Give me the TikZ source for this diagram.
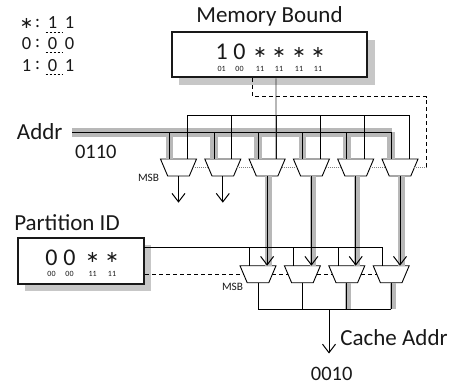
\documentclass[tikz,border=0pt]{standalone}
\usepackage{fontspec}
\setmainfont{Carlito}
\newfontfamily\starfont{DejaVu Sans}
\usetikzlibrary{arrows.meta, shapes.geometric}
\definecolor{textgray}{gray}{.1}
\definecolor{bandgray}{gray}{.72}
\definecolor{shadowgray}{gray}{.78}
\newcommand{\starbit}{{\fontsize{16}{16}\starfont ∗}}
\tikzset{
    headarrow/.style = {-{Straight Barb[length=8.5pt, width=13pt, line width=1pt]}},
    wire/.style = {line width=.8pt},
    dashwire/.style = {wire, dash pattern=on 4pt off 3pt},
    dotwire/.style = {line width=.6pt, gray, dash pattern=on 1pt off 1pt},
    band/.style = {line width=8pt, bandgray},
    mux/.style = {trapezium, shape border rotate=180, trapezium angle=67,
                  text width=21.6pt, text height=17pt, text depth=0pt,
                  inner sep=0pt, outer sep=0pt, draw, line width=.9pt, fill=white},
    regbox/.style = {draw=black!90, line width=2.6pt, fill=white, inner sep=0pt},
    shadowbox/.style = {fill=shadowgray, inner sep=0pt},
    title/.style = {font=\fontsize{23}{26}\selectfont, text=textgray, inner sep=0pt},
    digits/.style = {font=\fontsize{20.5}{24}\selectfont, text=textgray, inner sep=0pt},
    bigbit/.style = {font=\fontsize{24}{28}\selectfont, text=textgray, inner sep=0pt},
    legbit/.style = {font=\fontsize{18.5}{22}\selectfont, text=textgray, inner sep=0pt},
    tag/.style = {font=\fontsize{8}{9}\selectfont, text=textgray, inner sep=0pt},
    msb/.style = {font=\fontsize{11.3}{13}\selectfont, text=textgray, inner sep=0pt},
}

\begin{document}
\begin{tikzpicture}[x=1pt, y=-1pt]
    \useasboundingbox (0,0) rectangle (453,388);

    % registers
    \node[shadowbox, minimum width=196pt, minimum height=45pt] (memshadow) at (276.5,62.5) {};
    \node[regbox, minimum width=195pt, minimum height=45pt] (mem) at (269.5,54.5) {};
    \node[shadowbox, minimum width=126pt, minimum height=46pt] (partshadow) at (88,268) {};
    \node[regbox, minimum width=126pt, minimum height=46pt] (part) at (81,261) {};

    \node[title] (memtitle) at (269.5,16.5) {Memory Bound};
    \node[title] (parttitle) at (67,223) {Partition ID};
    \node[title] (addr) at (39.7,132) {Addr};
    \node[title] (cache) at (394,338) {Cache Addr};
    \node[digits] (addrval) at (95.8,152) {0110};
    \node[digits] (cacheval) at (331.7,374) {0010};
    \node[msb] (msbtop) at (148.5,177.5) {MSB};
    \node[msb] (msbbot) at (232.5,286.7) {MSB};

    \foreach \x/\Label/\Tag [count=\i] in {%
        221.7/1/01,
        239.5/0/00,
        260/\starbit/11,
        279/\starbit/11,
        299/\starbit/11,
        318/\starbit/11%
        } {
        \node[bigbit] (membit\i) at (\x,52) {\Label};
        \node[tag] (memtag\i) at (\x,69.3) {\Tag};
    }
    \foreach \x/\Label/\Tag [count=\i] in {%
        51.5/0/00,
        69.5/0/00,
        92.7/\starbit/11,
        112/\starbit/11%
        } {
        \node[bigbit] (partbit\i) at (\x,257.7) {\Label};
        \node[tag] (parttag\i) at (\x,274) {\Tag};
    }

    % legend
    \foreach \y/\Key/\Hi/\Lo [count=\i] in {%
        23/\starbit/1/1,
        43.5/0/0/0,
        65.5/1/0/1%
        } {
        \node[legbit] (legkey\i) at (26.5,\y) {\Key};
        \node[legbit] (legsep\i) at (37.5,\y) {:};
        \node[legbit] (leghi\i) at (52.5,\y) {\Hi};
        \node[legbit] (leglo\i) at (69.5,\y) {\Lo};
        \draw[wire, line width=.6pt, dash pattern=on 2.5pt off 1.5pt] ([shift={(-7,9)}]leghi\i.center) -- ([shift={(10.5,9)}]leghi\i.center);
    }

    % muxes
    \foreach \i in {1,...,6}
        \node[mux] (m\i) at ({178.5+44.3*(\i-1)},167.5) {};
    \foreach \i in {1,...,4}
        \node[mux] (b\i) at ({258+44.4*(\i-1)},274.2) {};

    \coordinate (busl) at (72,132.4);
    \coordinate (busr) at (391.5,132.4);
    \coordinate (memsel) at (276,115);
    \coordinate (partsel) at (144,247.7);
    \coordinate (dashtop) at (252.7,96.7);
    \coordinate (dashright) at (426.7,96.7);
    \coordinate (cachejoin) at (329,309.3);
    \coordinate (cacheend) at (329,353.5);

    % grey bands
    \foreach \i in {1,...,6}
        \draw[band, line width=7.5pt] ([xshift=-8.9pt]m\i.north) -- ([xshift=-8.9pt]m\i.north |- busr);
    \draw[band, line width=9pt] (busl) -- (busr);
    \foreach \Top/\Bot in {%
        3/1,
        4/2,
        5/3,
        6/4%
        }
        \draw[band, line width=6.5pt] ([xshift=1.5pt]m\Top.south) -- ([xshift=1.5pt]m\Top.south |- b\Bot.north);
    \foreach \i in {3,4}
        \draw[band, line width=6pt] ([xshift=1.5pt]b\i.south) -- ([xshift=1.5pt]b\i.south |- cachejoin);

    % address bus and selects
    \draw[wire] (busl) -- (busr);
    \foreach \i in {1,...,6} {
        \draw[wire] ([xshift=-8.9pt]m\i.north) -- ([xshift=-8.9pt]m\i.north |- busr);
        \draw[wire] ([xshift=8.9pt]m\i.north) |- (memsel);
    }
    \draw[wire, gray!40!black] (memsel |- mem.south) -- ([xshift=8.9pt]m3.north);
    \draw[dashwire] (dashtop |- mem.south) -- (dashtop) -- (dashright) -- (dashright |- m6.east);
    \draw[dotwire] (dashright |- m6.east) -- (m6.east);
    \foreach \Target [remember=\Target as \Source (initially 1)] in {2,...,6}
        \draw[dotwire] (m\Source.east) -- (m\Target.west);

    % first row outputs
    \foreach \i in {1,2}
        \draw[wire, headarrow] (m\i.south) -- ++(0,26.7);
    \foreach \Top/\Bot in {%
        3/1,
        4/2,
        5/3,
        6/4%
        }
        \draw[wire, line width=1pt, headarrow] (m\Top.south) -- (m\Top.south |- b\Bot.north);

    % second row
    \foreach \i in {1,...,4}
        \draw[wire] ([xshift=-8.9pt]b\i.north) |- (partsel);
    \draw[dashwire] (part.east |- b1.west) -- (b1.west);
    \foreach \Target [remember=\Target as \Source (initially 1)] in {2,...,4}
        \draw[dashwire] (b\Source.east) -- (b\Target.west);
    \foreach \i in {1,...,4}
        \draw[wire] (b\i.south) -- (b\i.south |- cachejoin);
    \draw[wire] (b1.south |- cachejoin) -- (b4.south |- cachejoin);
    \draw[wire, headarrow] (cachejoin) -- (cacheend);
\end{tikzpicture}
\end{document}
